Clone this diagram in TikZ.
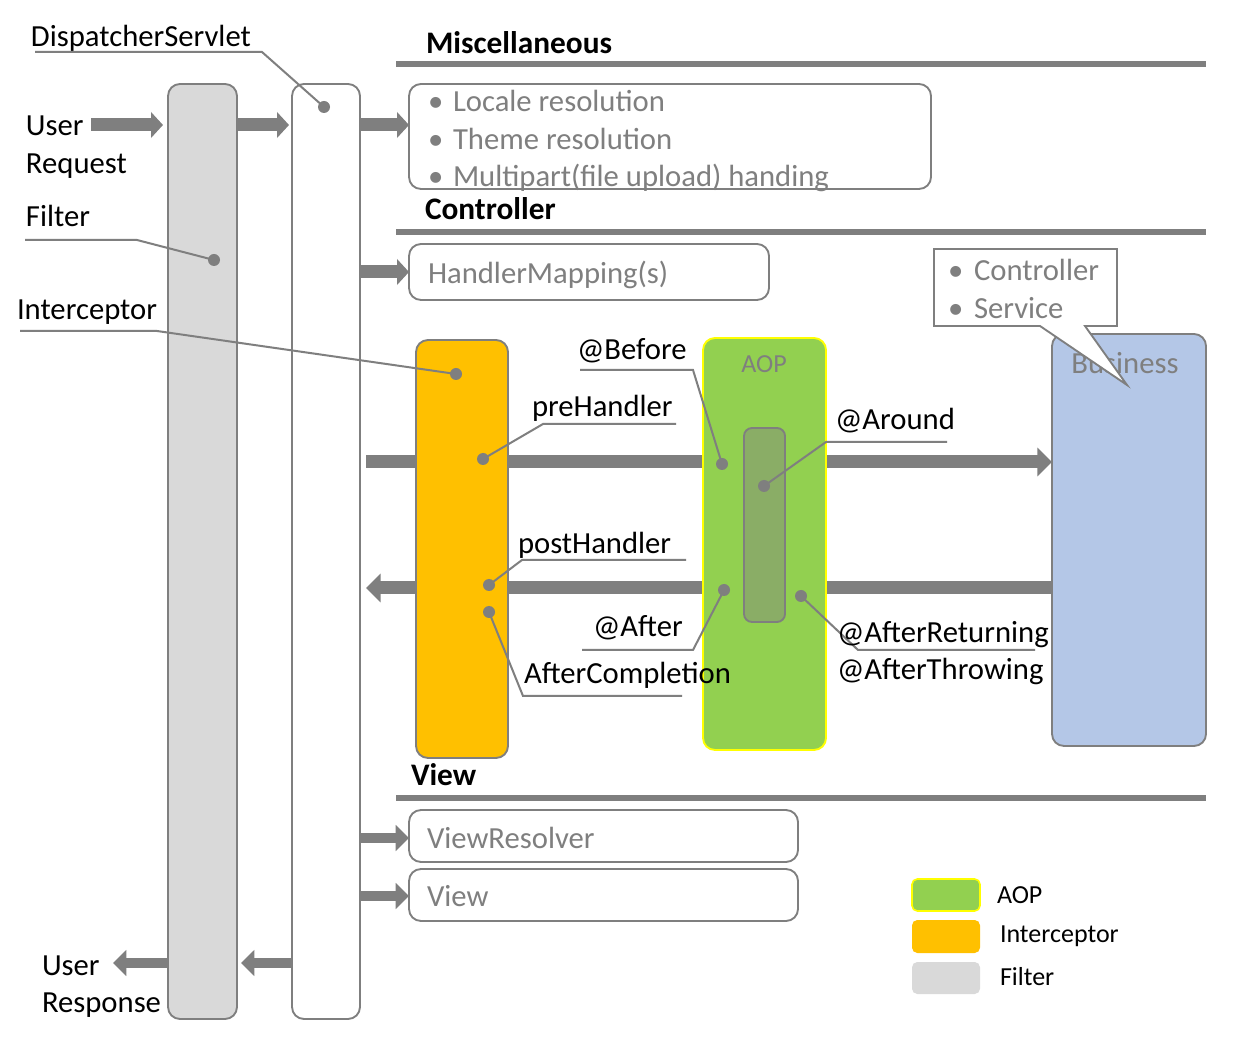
\documentclass[tikz,border=0pt]{standalone}
\usepackage{fontspec}
\setmainfont{Carlito}
\usetikzlibrary{arrows.meta,fit,calc}
\definecolor{lgray}{HTML}{7F7F7F}
\definecolor{filtergray}{HTML}{D9D9D9}
\definecolor{intorange}{HTML}{FFC000}
\definecolor{aopgreen}{HTML}{92D050}
\definecolor{aopdark}{HTML}{8AAD66}
\definecolor{bizblue}{HTML}{B4C7E7}
\definecolor{aopyellow}{HTML}{FFFF00}
\begin{document}
\begin{tikzpicture}[x=0.75pt,y=-0.75pt,
 every node/.style={inner sep=0pt, outer sep=0pt},
 bar/.style={draw=lgray, line width=1.4pt, rounded corners=9pt},
 boxr/.style={draw=lgray, line width=1.4pt, rounded corners=9pt, fill=white},
 rulel/.style={draw=lgray, line width=4.5pt},
 bigarrow/.style={draw=lgray, line width=9.75pt, -{Triangle[width=21pt,length=11pt]}},
 midarrow/.style={draw=lgray, line width=9.75pt, -{Triangle[width=19pt,length=9pt]}},
 smallarrow/.style={draw=lgray, line width=8pt, -{Triangle[width=19pt,length=10pt]}},
 leader/.style={draw=lgray, line width=1.5pt},
 dot/.style={circle, fill=lgray, minimum size=9pt},
 lbl/.style={anchor=base west, yshift=-1.5pt, font=\fontsize{23}{26}\selectfont},
 glbl/.style={anchor=base west, yshift=-1.5pt, font=\fontsize{23}{26}\selectfont, text=lgray},
 hdr/.style={anchor=base west, yshift=-1.5pt, font=\fontsize{23.5}{26}\selectfont\bfseries},
 leg/.style={anchor=base west, yshift=-1pt, font=\fontsize{19.5}{22}\selectfont},
 swatch/.style={rounded corners=4pt, line width=1.2pt},
]
\useasboundingbox (0,0) rectangle (1236,1044);
\fill[white] (0,0) rectangle (1236,1044);

% vertical bars
\node[bar, fill=filtergray, fit={(168,84)(237,1019)}] (filter) {};
\node[bar, fill=white, fit={(292,84)(360,1019)}] (ds) {};

% section rules
\coordinate (r1a) at (396,64);  \coordinate (r1b) at (1206,64);
\coordinate (r2a) at (396,232); \coordinate (r2b) at (1206,232);
\coordinate (r3a) at (396,798); \coordinate (r3b) at (1206,798);
\draw[rulel] (r1a) -- (r1b);
\draw[rulel] (r2a) -- (r2b);
\draw[rulel] (r3a) -- (r3b);
\node[hdr] (hMisc) at (426,52) {Miscellaneous};
\node[hdr] (hCtrl) at (425,218) {Controller};
\node[hdr] (hView) at (411,783) {View};

% boxes
\node[boxr, fit={(409,84)(931,189)}] (misc) {};
\node[glbl] (m1b) at (428,110) {•};
\node[glbl] (m1) at (453,110) {Locale resolution};
\node[glbl] (m2b) at (428,148) {•};
\node[glbl] (m2) at (453,148) {Theme resolution};
\node[glbl] (m3b) at (428,185) {•};
\node[glbl] (m3) at (453,185) {Multipart(file upload) handing};

\node[boxr, fit={(409,244)(769,300)}] (hm) {};
\node[glbl] (hmt) at (428,282) {HandlerMapping(s)};

\node[boxr, fit={(409,810)(798,862)}] (vr) {};
\node[glbl] (vrt) at (427,846) {ViewResolver};
\node[boxr, fit={(409,869)(798,921)}] (vw) {};
\node[glbl] (vwt) at (427,904) {View};

% main arrows (behind boxes)
\coordinate (fwdS) at (366,462);
\coordinate (bwdE) at (366,588);
\node[bar, fill=bizblue, fit={(1052,334)(1206,746)}] (biz) {};
\node[glbl, anchor=base] (bizt) at (1125,372) {Business};
\draw[bigarrow] (fwdS) -- (biz.west |- fwdS);
\draw[bigarrow] (biz.west |- bwdE) -- (bwdE);

% interceptor and AOP
\node[bar, fill=intorange, fit={(416,340)(508,758)}] (inter) {};
\node[draw=aopyellow, line width=1.4pt, rounded corners=9pt, fill=aopgreen, fit={(703,338)(826,750)}] (aop) {};
\node[anchor=base, yshift=-1pt, font=\fontsize{19.5}{22}\selectfont, text=lgray] (aopt) at (764,371) {AOP};
\node[draw=lgray, line width=1.4pt, rounded corners=6pt, fill=aopdark, fit={(744,428)(785,622)}] (around) {};

% callout
\draw[draw=lgray, line width=1.4pt, fill=white, line join=miter]
  (934,249) -- (1117,249) -- (1117,326) -- (1085,326) -- (1127,385) -- (1040,326) -- (934,326) -- cycle;
\node[glbl] (c1b) at (948,279) {•};
\node[glbl] (c1) at (974,279) {Controller};
\node[glbl] (c2b) at (948,317) {•};
\node[glbl] (c2) at (974,317) {Service};

% small arrows
\coordinate (ur0) at (91,125);
\coordinate (ur1) at (163,125);
\coordinate (fd0) at (237,125);
\coordinate (fd1) at (289,125);
\draw[midarrow] (ur0) -- (ur1);
\draw[midarrow] (filter.east |- fd0) -- (fd1);
\draw[midarrow] (ds.east |- fd0) -- (misc.west |- fd0);
\draw[midarrow] (ds.east |- 0,272) -- (hm.west |- 0,272);
\draw[smallarrow] (ds.east |- 0,838) -- (vr.west |- 0,838);
\draw[smallarrow] (ds.east |- 0,896) -- (vw.west |- 0,896);
\coordinate (rs1) at (241,963);
\coordinate (rs2) at (113,963);
\draw[smallarrow] (ds.west |- rs1) -- (rs1);
\draw[smallarrow] (filter.west |- rs2) -- (rs2);

% left labels
\node[lbl] (lDS) at (31,45) {DispatcherServlet};
\node[lbl] (lUser) at (26,134) {User};
\node[lbl] (lReq) at (26,172) {Request};
\node[lbl] (lFilter) at (26,225) {Filter};
\node[lbl] (lInt) at (17,318) {Interceptor};
\node[lbl] (lUser2) at (42,973) {User};
\node[lbl] (lResp) at (42,1010) {Response};

% dots
\node[dot] (dDS) at (324,107) {};
\node[dot] (dFil) at (214,260) {};
\node[dot] (dInt) at (456,374) {};
\node[dot] (dPre) at (483,459) {};
\node[dot] (dBef) at (722,464) {};
\node[dot] (dAro) at (764,486) {};
\node[dot] (dPost) at (489,585) {};
\node[dot] (dAC) at (489,612) {};
\node[dot] (dAft) at (724,590) {};
\node[dot] (dAR) at (801,596) {};

% leaders
\draw[leader] (35,52) -- (262,52) -- (dDS.center);
\draw[leader] (25,240) -- (137,240) -- (dFil.center);
\draw[leader] (20,331) -- (157,331) -- (dInt.center);
\draw[leader] (580,370) -- (693,370) -- (dBef.center);
\draw[leader] (676,424) -- (543,424) -- (dPre.center);
\draw[leader] (947,442) -- (826,442) -- (dAro.center);
\draw[leader] (686,560) -- (522,560) -- (dPost.center);
\draw[leader] (582,650) -- (693,650) -- (dAft.center);
\draw[leader] (682,696) -- (523,696) -- (dAC.center);
\draw[leader] (1035,650) -- (858,650) -- (dAR.center);

% inner labels
\node[lbl] (tBef) at (577,358) {@Before};
\node[lbl] (tPre) at (532,415) {preHandler};
\node[lbl] (tAro) at (835,428) {@Around};
\node[lbl] (tPost) at (518,552) {postHandler};
\node[lbl] (tAft) at (593,635) {@After};
\node[lbl] (tAC) at (524,682) {AfterCompletion};
\node[lbl] (tAR) at (837,641) {@AfterReturning};
\node[lbl] (tAT) at (837,678) {@AfterThrowing};

% legend
\node[swatch, draw=aopyellow, fill=aopgreen, fit={(912,879)(980,911)}] (lgA) {};
\node[swatch, fill=intorange, fit={(912,920)(980,953)}] (lgI) {};
\node[swatch, fill=filtergray, fit={(912,962)(980,994)}] (lgF) {};
\node[leg] (lgAt) at (997,902) {AOP};
\node[leg] (lgIt) at (1000,941) {Interceptor};
\node[leg] (lgFt) at (1000,984) {Filter};
\end{tikzpicture}
\end{document}
